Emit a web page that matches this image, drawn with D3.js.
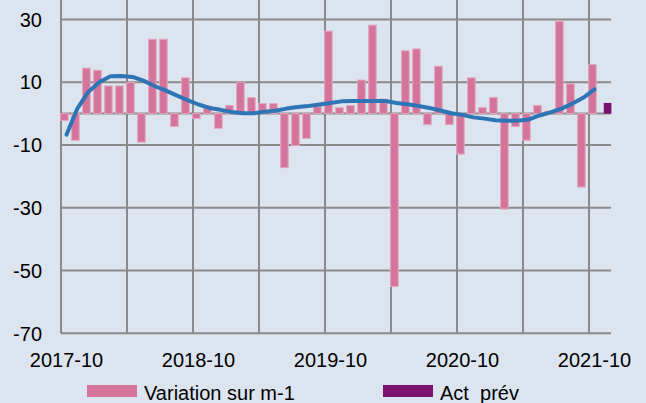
<!DOCTYPE html>
<html>
<head>
<meta charset="utf-8">
<script src="https://cdn.jsdelivr.net/npm/d3@7/dist/d3.min.js"></script>
<style>
  html, body { margin: 0; padding: 0; background: #dce4ef; }
  svg { display: block; font-family: "Liberation Sans", Arial, sans-serif; }
  .lbl { font-size: 20px; fill: #000; }
</style>
</head>
<body>
<div id="chart"></div>
<script>
// categories: monthly, 2017-10 .. 2021-11
var months = d3.timeMonths(new Date(2017, 9, 1), new Date(2021, 11, 1)).map(d3.timeFormat('%Y-%m'));
var tickLabels = ['2017-10', '2018-10', '2019-10', '2020-10', '2021-10'];
var yTicks = [-70, -50, -30, -10, 10, 30];

// Variation sur m-1 (2017-10 .. 2021-10)
var variation = [-2.2, -8.5, 14.5, 13.8, 8.8, 8.8, 9.9, -9.1, 23.7, 23.7, -4.1, 11.4,
  -1.6, 2.4, -4.7, 2.6, 10.0, 5.1, 3.2, 3.2, -17.2, -10.2, -7.9, 2.2,
  26.3, 1.9, 2.6, 10.7, 28.2, 4.6, -55.1, 20.0, 20.6, -3.5, 15.1, -3.5,
  -12.9, 11.4, 1.9, 5.1, -30.4, -4.1, -8.5, 2.6, 0.8, 29.4, 9.5, -23.4, 15.6];
// smoothed trend line
var trend = [-6.7, 1.7, 7.0, 10.1, 11.9, 12.0, 11.7, 10.5, 8.8, 7.4, 5.8, 4.3,
  2.9, 1.8, 1.2, 0.5, 0.1, 0.1, 0.6, 0.9, 1.6, 2.1, 2.4, 2.9,
  3.4, 3.9, 4.0, 4.0, 4.0, 4.0, 3.4, 3.0, 2.4, 1.8, 1.0, 0.1,
  -0.4, -1.2, -1.6, -2.1, -2.3, -2.3, -1.9, -0.6, 0.4, 1.6, 3.2, 5.1, 7.7];
// Act prév (2021-11)
var actPrevMonths = ['2021-11'];
var actPrev = [3.4];

var W = 646, H = 403;
var plotL = 61, plotR = 611, plotT = 0, plotB = 333.3;

var svg = d3.select('#chart').append('svg')
  .attr('width', W).attr('height', H);

var x = d3.scaleBand().domain(months).range([plotL, plotR]);
var x1 = d3.scaleBand().domain(['var', 'act'])
  .range([x.bandwidth() * 0.12, x.bandwidth() * 0.88]);
var barW = x.bandwidth() * 0.69;
var y = d3.scaleLinear().domain([-70, 36.2]).range([plotB, plotT]);

var grid = svg.append('g').attr('stroke', '#8a8a8a').attr('stroke-width', 2);

// horizontal gridlines
grid.selectAll('.hg').data(yTicks.concat([0])).enter().append('line')
  .attr('x1', plotL).attr('x2', plotR)
  .attr('y1', function(d){ return y(d); }).attr('y2', function(d){ return y(d); });

// vertical gridlines every 6 months (category boundaries)
var vLines = months.filter(function(d, i){ return i % 6 === 0; });
grid.selectAll('.vg').data(vLines).enter().append('line')
  .attr('x1', function(d){ return x(d); }).attr('x2', function(d){ return x(d); })
  .attr('y1', plotT).attr('y2', plotB);

// bars
svg.append('g').selectAll('rect').data(variation).enter().append('rect')
  .attr('x', function(d, i){ return x(months[i]) + x1('var') + x1.bandwidth() / 2 - barW / 2; })
  .attr('width', barW)
  .attr('y', function(d){ return y(Math.max(0, d)); })
  .attr('height', function(d){ return Math.abs(y(d) - y(0)); })
  .attr('fill', '#d4749a')
  .attr('stroke', '#e4a6c0').attr('stroke-width', 1);

svg.append('g').selectAll('rect').data(actPrev).enter().append('rect')
  .attr('x', function(d, i){ return x(actPrevMonths[i]) + x1('act') + x1.bandwidth() / 2 - barW / 2; })
  .attr('width', barW)
  .attr('y', function(d){ return y(Math.max(0, d)); })
  .attr('height', function(d){ return Math.abs(y(d) - y(0)); })
  .attr('fill', '#7b116e');

// trend line
var line = d3.line()
  .x(function(d, i){ return x(months[i]) + x.bandwidth() / 2; })
  .y(function(d){ return y(d); });
svg.append('path').datum(trend)
  .attr('d', line)
  .attr('fill', 'none')
  .attr('stroke', '#2e75b6')
  .attr('stroke-width', 4)
  .attr('stroke-linejoin', 'round')
  .attr('stroke-linecap', 'round');

// y labels
svg.append('g').selectAll('text').data(yTicks).enter().append('text')
  .attr('class', 'lbl')
  .attr('x', 42).attr('y', function(d){ return y(d); })
  .attr('dy', '0.36em')
  .attr('text-anchor', 'end')
  .text(function(d){ return d; });

// x labels
svg.append('g').selectAll('text').data(tickLabels).enter().append('text')
  .attr('class', 'lbl')
  .attr('x', function(d){ return x(d) + x.bandwidth() / 2; })
  .attr('y', 366.7)
  .attr('text-anchor', 'middle')
  .text(function(d){ return d; });

// legend
var legendItems = [
  { label: 'Variation sur m-1', color: '#d4749a', x: 87 },
  { label: 'Act  prév', color: '#7b116e', x: 383 }
];
var lg = svg.append('g').selectAll('g').data(legendItems).enter().append('g')
  .attr('transform', function(d){ return 'translate(' + d.x + ',385)'; });
lg.append('rect').attr('width', 50).attr('height', 12)
  .attr('fill', function(d){ return d.color; });
lg.append('text').attr('class', 'lbl')
  .attr('x', 57).attr('y', 14.8)
  .style('white-space', 'pre')
  .text(function(d){ return d.label; });
</script>
</body>
</html>
